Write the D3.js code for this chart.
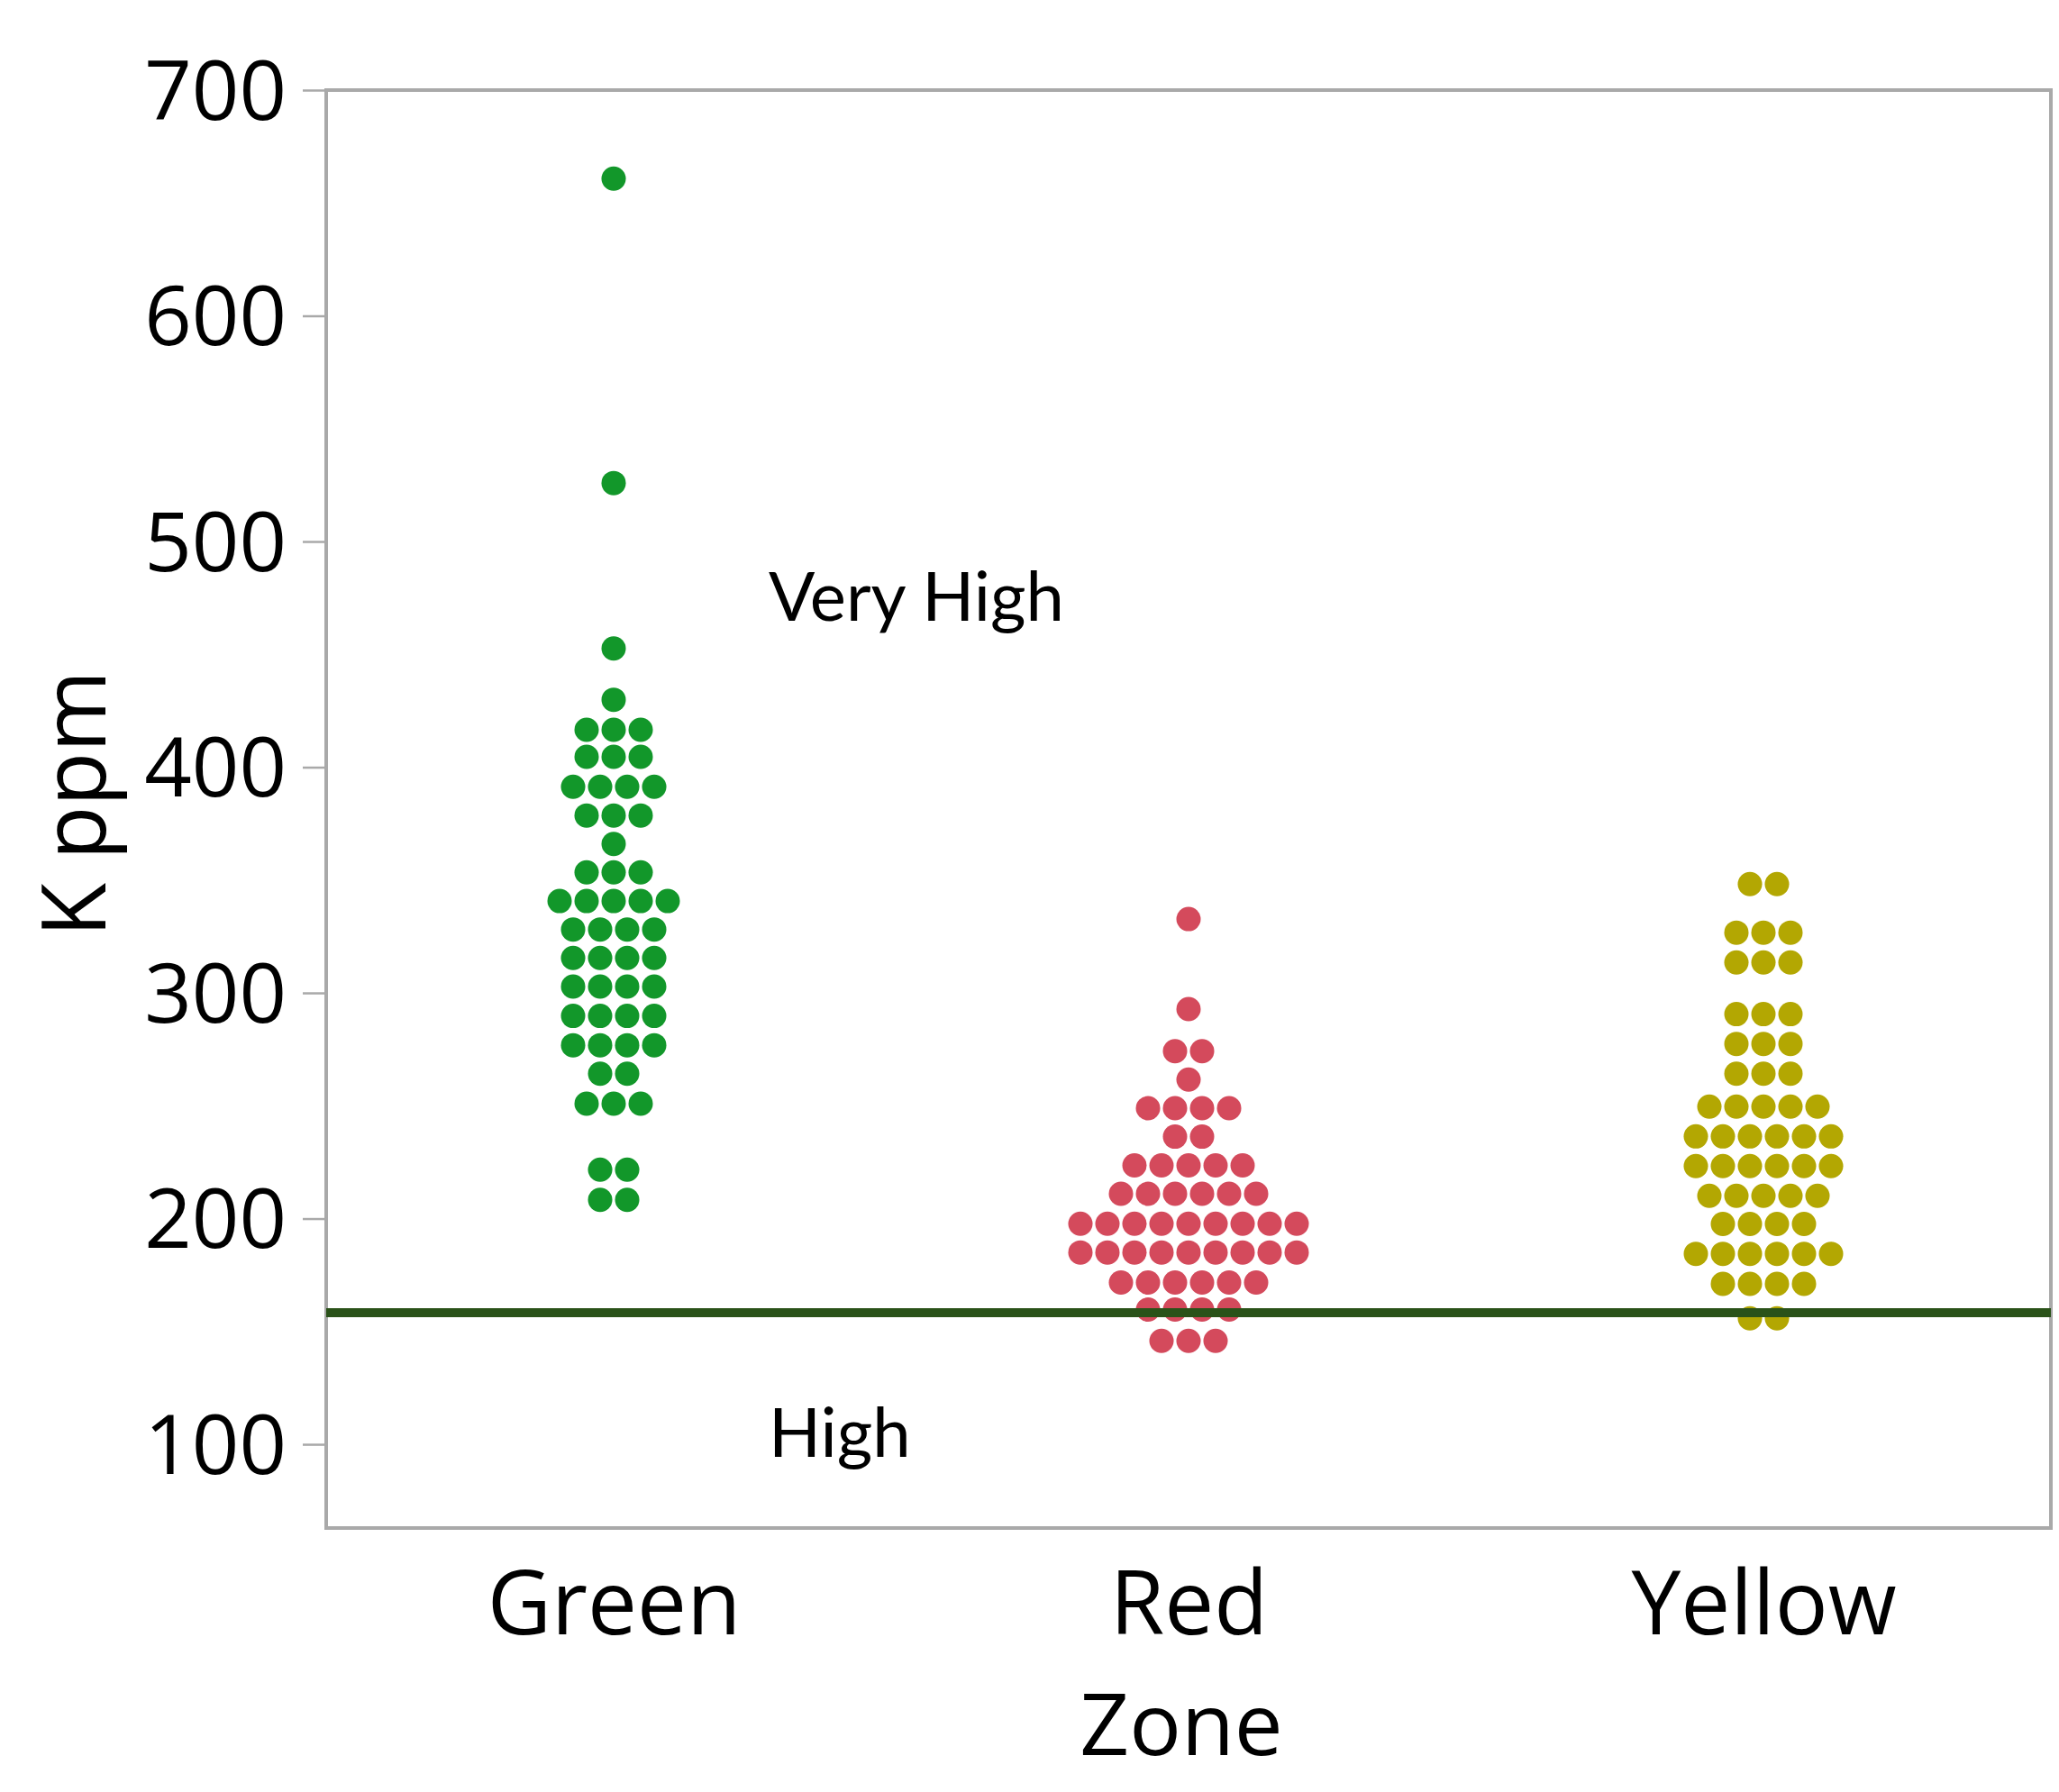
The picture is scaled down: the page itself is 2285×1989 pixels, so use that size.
<!DOCTYPE html>
<html>
<head>
<meta charset="utf-8">
<script src="https://cdn.jsdelivr.net/npm/d3@7"></script>
<style>
  html, body { margin: 0; padding: 0; background: #ffffff; }
  svg { display: block; }
</style>
</head>
<body>
<svg id="chart" width="2285" height="1989"></svg>
<script>
// ---------- data ----------
const zones = ["Green", "Red", "Yellow"];
const yTicks = [100, 200, 300, 400, 500, 600, 700];

function rep(v, n) { return Array(n).fill(v); }

const greenValues = [].concat(
  [660.8, 525.9, 452.6, 429.9],
  rep(416.6, 3), rep(404.6, 3), rep(391.3, 4), rep(378.6, 3), [366.0],
  rep(353.4, 3), rep(340.7, 5), rep(328.1, 4), rep(315.5, 4), rep(302.8, 4),
  rep(289.8, 4), rep(276.8, 4), rep(264.2, 2), rep(250.9, 3),
  rep(221.7, 2), rep(208.3, 2)
);
const redValues = [].concat(
  [332.7, 292.8], rep(274.2, 2), [261.6], rep(248.9, 4), rep(236.3, 2),
  rep(223.6, 5), rep(211.0, 6), rep(197.7, 9), rep(185.0, 9), rep(171.7, 6),
  rep(159.7, 4), rep(145.8, 3)
);
const yellowValues = [].concat(
  rep(348.2, 2), rep(326.7, 3), rep(313.5, 3), rep(290.6, 3), rep(277.4, 3),
  rep(264.2, 3), rep(249.6, 5), rep(236.4, 6), rep(223.3, 6), rep(210.1, 5),
  rep(197.6, 4), rep(184.4, 6), rep(171.1, 4), rep(155.8, 2)
);
const zoneValues = { Green: greenValues, Red: redValues, Yellow: yellowValues };
const zoneColors = { Green: "#12972a", Red: "#d44a5c", Yellow: "#b3a702" };

const thresholdValue = 158.3;
const annotations = [
  { label: "Very High", value: 465 },
  { label: "High", value: 94.5 }
];

// ---------- layout ----------
const svg = d3.select("#chart");
const mLeft = 362, mRight = 2276, mTop = 100, mBottom = 1696;

const y = d3.scaleLinear().domain([62.9, 700]).range([mBottom, mTop]);
const x = d3.scalePoint().domain(zones).range([mLeft, mRight]).padding(0.5);

const frameColor = "#a9a9a9";

// frame
svg.append("rect")
  .attr("x", mLeft).attr("y", mTop)
  .attr("width", mRight - mLeft).attr("height", mBottom - mTop)
  .attr("fill", "none").attr("stroke", frameColor).attr("stroke-width", 4);

// y axis
const yAxis = d3.axisLeft(y).tickValues(yTicks).tickSize(26).tickPadding(18);
const gy = svg.append("g").attr("transform", `translate(${mLeft},0)`).call(yAxis);
gy.select(".domain").remove();
gy.selectAll(".tick line").attr("stroke", frameColor).attr("stroke-width", 2.5);
gy.selectAll(".tick text")
  .attr("font-family", "'Open Sans', 'Noto Sans', sans-serif")
  .attr("font-size", 92)
  .attr("fill", "#000")
  .attr("dy", "0.35em");

// x axis labels
const xAxis = d3.axisBottom(x).tickSize(0).tickPadding(0);
const gx = svg.append("g").attr("transform", `translate(0,${mBottom})`).call(xAxis);
gx.select(".domain").remove();
gx.selectAll(".tick text")
  .attr("font-family", "'Open Sans', 'Noto Sans', sans-serif")
  .attr("font-size", 98)
  .attr("fill", "#000")
  .attr("y", 118)
  .attr("dy", 0);

// axis titles
svg.append("text")
  .attr("x", x("Red") - 8).attr("y", 1948)
  .attr("text-anchor", "middle")
  .attr("font-family", "'Open Sans', 'Noto Sans', sans-serif")
  .attr("font-size", 96)
  .attr("fill", "#000")
  .text("Zone");

svg.append("text")
  .attr("transform", `translate(117,${(mTop + mBottom) / 2 - 6}) rotate(-90)`)
  .attr("text-anchor", "middle")
  .attr("font-family", "'Open Sans', 'Noto Sans', sans-serif")
  .attr("font-size", 98)
  .attr("fill", "#000")
  .text("K ppm");

// dots
const dotR = 13.5, dotStep = 30;
zones.forEach(z => {
  const groups = d3.groups(zoneValues[z], v => v);
  const pts = [];
  groups.forEach(([v, arr]) => {
    const n = arr.length;
    arr.forEach((_, i) => pts.push({ v, off: (i - (n - 1) / 2) * dotStep }));
  });
  svg.append("g").selectAll("circle")
    .data(pts)
    .join("circle")
    .attr("cx", d => x(z) + d.off)
    .attr("cy", d => y(d.v))
    .attr("r", dotR)
    .attr("fill", zoneColors[z]);
});

// threshold line
svg.append("line")
  .attr("x1", mLeft).attr("x2", mRight)
  .attr("y1", y(thresholdValue)).attr("y2", y(thresholdValue))
  .attr("stroke", "#2a5219").attr("stroke-width", 10);

// annotations
svg.append("g").selectAll("text")
  .data(annotations)
  .join("text")
  .attr("x", x("Green") + 172)
  .attr("y", d => y(d.value))
  .attr("font-family", "Lato, 'Open Sans', sans-serif")
  .attr("font-size", 76)
  .attr("fill", "#000")
  .text(d => d.label);
</script>
</body>
</html>
